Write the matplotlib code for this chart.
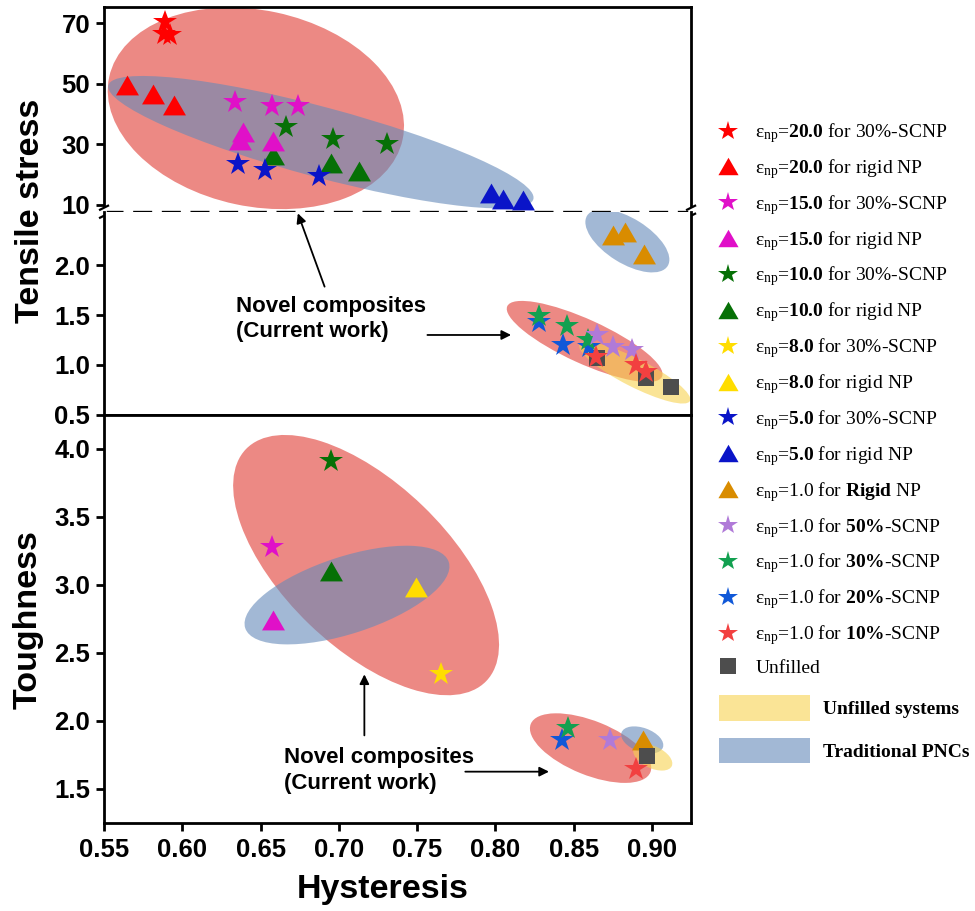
import matplotlib
matplotlib.use('Agg')
import matplotlib.pyplot as plt
from matplotlib.patches import Ellipse, Patch
from matplotlib.lines import Line2D
from matplotlib.transforms import ScaledTranslation

plt.rcParams['font.family'] = 'Liberation Sans'
plt.rcParams['mathtext.fontset'] = 'custom'
plt.rcParams['mathtext.rm'] = 'Liberation Serif'
plt.rcParams['mathtext.bf'] = 'Liberation Serif:bold'
plt.rcParams['mathtext.it'] = 'Liberation Serif:italic'

# ---- data ----
# top panel (tensile stress, high epsilon_np)
e20_scnp_x = [0.589, 0.588, 0.592]
e20_scnp_y = [70.5, 66.5, 66.0]
e20_rig_x = [0.5645, 0.581, 0.595]
e20_rig_y = [49.6, 46.5, 43.0]
e15_scnp_x = [0.6335, 0.657, 0.674]
e15_scnp_y = [43.9, 42.6, 42.6]
e15_rig_x = [0.639, 0.637, 0.658]
e15_rig_y = [34.0, 31.5, 31.0]
e10_scnp_x = [0.666, 0.696, 0.731]
e10_scnp_y = [35.8, 31.9, 30.0]
e10_rig_x = [0.658, 0.695, 0.713]
e10_rig_y = [26.4, 23.7, 21.1]
e5_scnp_x = [0.6355, 0.653, 0.687]
e5_scnp_y = [23.4, 21.5, 19.5]
e5_rig_x = [0.7975, 0.805, 0.8175]
e5_rig_y = [14.0, 11.8, 11.5]

# middle panel (tensile stress, epsilon_np = 1.0)
rig1_x = [0.875, 0.883, 0.895]
rig1_y = [2.31, 2.34, 2.11]
unf_x = [0.865, 0.896, 0.912]
unf_y = [1.07, 0.87, 0.78]
s20_x = [0.828, 0.843, 0.860]
s20_y = [1.43, 1.20, 1.18]
s30_x = [0.828, 0.846, 0.859]
s30_y = [1.49, 1.39, 1.25]
s50_x = [0.865, 0.875, 0.887]
s50_y = [1.30, 1.18, 1.15]
s10_x = [0.864, 0.890, 0.896]
s10_y = [1.08, 1.00, 0.93]

# bottom panel (toughness)
t_e15_scnp = (0.657, 3.278)
t_e10_scnp = (0.695, 3.907)
t_e8_scnp = (0.765, 2.347)
t_e15_rig = (0.658, 2.744)
t_e10_rig = (0.695, 3.10)
t_e8_rig = (0.7495, 2.98)
t_rig1 = (0.894, 1.863)
t_unf = (0.897, 1.745)
t_s20 = (0.8425, 1.862)
t_s30 = (0.8465, 1.948)
t_s50 = (0.8735, 1.858)
t_s10 = (0.890, 1.650)

x_ticks = [0.55, 0.60, 0.65, 0.70, 0.75, 0.80, 0.85, 0.90]
top_ticks = [10, 30, 50, 70]
mid_ticks = [0.5, 1.0, 1.5, 2.0]
bot_ticks = [1.5, 2.0, 2.5, 3.0, 3.5, 4.0]

# ---- styles ----
TRI = [(0, 0.75), (-0.866, -0.75), (0.866, -0.75)]
c_e20, c_e15, c_e10, c_e8, c_e5 = '#ff0000', '#e010c8', '#067006', '#ffdd00', '#0a14c8'
c_rig1, c_s50, c_s30, c_s20, c_s10 = '#d98c00', '#b07ad8', '#12a050', '#1058d8', '#f24040'
c_unf = '#4d4d4d'
c_red, c_blue, c_yel = '#e03a33', '#658ab9', '#f7d250'

fig = plt.figure(figsize=(9.75, 9.11), dpi=100)
ax1 = fig.add_axes([0.1067, 0.7676, 0.6021, 0.2250])
ax2 = fig.add_axes([0.1067, 0.5450, 0.6021, 0.2226])
ax3 = fig.add_axes([0.1067, 0.0966, 0.6021, 0.4484])


def star(ax, x, y, c):
    ax.plot(x, y, ls='none', marker='*', ms=17.5, color=c, mew=0, zorder=4)


def tri(ax, x, y, c):
    ax.plot(x, y, ls='none', marker=TRI, ms=16.5, color=c, mew=0, zorder=4)


def square(ax, x, y):
    ax.plot(x, y, ls='none', marker='s', ms=12, color=c_unf, mew=0, zorder=4)


def blob(ax, cx, cy, w, h, ang, c, z=1):
    tr = fig.dpi_scale_trans + ScaledTranslation(cx, cy, ax.transData)
    ax.add_patch(Ellipse((0, 0), w / 100, h / 100, angle=ang, transform=tr,
                         facecolor=c, alpha=0.6, edgecolor='none', zorder=z))


# top panel
blob(ax1, 0.647, 41.9, 300, 196, -12, c_red)
blob(ax1, 0.6885, 30.7, 440, 70, -15, c_blue, 2)
tri(ax1, e10_rig_x, e10_rig_y, c_e10)
tri(ax1, e15_rig_x, e15_rig_y, c_e15)
tri(ax1, e20_rig_x, e20_rig_y, c_e20)
tri(ax1, e5_rig_x, e5_rig_y, c_e5)
star(ax1, e20_scnp_x, e20_scnp_y, c_e20)
star(ax1, e15_scnp_x, e15_scnp_y, c_e15)
star(ax1, e10_scnp_x, e10_scnp_y, c_e10)
star(ax1, e5_scnp_x, e5_scnp_y, c_e5)

# middle panel
blob(ax2, 0.8843, 2.247, 95, 45, -32, c_blue)
blob(ax2, 0.857, 1.235, 170, 44, -24.5, c_red)
blob(ax2, 0.889, 0.92, 124, 28, -27, c_yel, 2)
tri(ax2, rig1_x, rig1_y, c_rig1)
square(ax2, unf_x, unf_y)
star(ax2, s20_x, s20_y, c_s20)
star(ax2, s30_x, s30_y, c_s30)
star(ax2, s50_x, s50_y, c_s50)
star(ax2, s10_x, s10_y, c_s10)

# bottom panel
blob(ax3, 0.7174, 3.144, 334, 164, -44, c_red)
blob(ax3, 0.7052, 2.924, 214, 77, 18, c_blue, 2)
blob(ax3, 0.8608, 1.80, 129, 54, -22, c_red)
blob(ax3, 0.8938, 1.86, 44, 24, -20, c_blue, 2)
blob(ax3, 0.9005, 1.733, 42, 22, -25, c_yel, 2)
tri(ax3, [t_e15_rig[0]], [t_e15_rig[1]], c_e15)
tri(ax3, [t_e10_rig[0]], [t_e10_rig[1]], c_e10)
tri(ax3, [t_e8_rig[0]], [t_e8_rig[1]], c_e8)
star(ax3, [t_e15_scnp[0]], [t_e15_scnp[1]], c_e15)
star(ax3, [t_e10_scnp[0]], [t_e10_scnp[1]], c_e10)
star(ax3, [t_e8_scnp[0]], [t_e8_scnp[1]], c_e8)
tri(ax3, [t_rig1[0]], [t_rig1[1]], c_rig1)
square(ax3, [t_unf[0]], [t_unf[1]])
star(ax3, [t_s20[0]], [t_s20[1]], c_s20)
star(ax3, [t_s30[0]], [t_s30[1]], c_s30)
star(ax3, [t_s50[0]], [t_s50[1]], c_s50)
star(ax3, [t_s10[0]], [t_s10[1]], c_s10)

# axes cosmetics
for ax in (ax1, ax2, ax3):
    ax.set_xlim(0.55, 0.925)
    for s in ax.spines.values():
        s.set_linewidth(2)
    ax.tick_params(axis='y', direction='out', length=6, width=2, pad=4, labelsize=18.5)
    ax.tick_params(axis='x', direction='out', length=6, width=2, pad=5, labelsize=18.5)

ax1.set_ylim(7.7, 75.5)
ax2.set_ylim(0.5, 2.54)
ax3.set_ylim(1.25, 4.25)
ax1.set_yticks(top_ticks)
ax2.set_yticks(mid_ticks)
ax3.set_yticks(bot_ticks)
ax3.set_xticks(x_ticks)
ax3.set_xticklabels(['%.2f' % v for v in x_ticks], fontweight='bold')
ax1.set_yticklabels([str(v) for v in top_ticks], fontweight='bold')
ax2.set_yticklabels(['%.1f' % v for v in mid_ticks], fontweight='bold')
ax3.set_yticklabels(['%.1f' % v for v in bot_ticks], fontweight='bold')
for ax in (ax1, ax2):
    ax.tick_params(axis='x', bottom=False, labelbottom=False)
ax1.spines['bottom'].set_visible(False)
ax2.spines['top'].set_visible(False)

# dashed break line between the two tensile panels
ax1.plot([0, 1], [0, 0], transform=ax1.transAxes, color='k', lw=2.4,
         dashes=(5.7, 2.9), clip_on=False, zorder=6)

# small break marks on both side spines
for xa in (0, 1):
    tr = fig.dpi_scale_trans + ScaledTranslation(xa, 0, ax1.transAxes)
    ax1.plot([0, 0], [-0.035, 0.035], transform=tr, color='white', lw=4,
             clip_on=False, zorder=7, solid_capstyle='butt')
    ax1.plot([-0.04, 0.04], [0.02, 0.06], transform=tr, color='k', lw=1.6,
             clip_on=False, zorder=8)
    ax1.plot([-0.04, 0.04], [-0.06, -0.02], transform=tr, color='k', lw=1.6,
             clip_on=False, zorder=8)

# labels
fig.text(0.031, 0.768, 'Tensile stress', rotation=90, ha='center', va='center',
         fontsize=24.5, fontweight='bold')
fig.text(0.029, 0.3194, 'Toughness', rotation=90, ha='center', va='center',
         fontsize=24.5, fontweight='bold')
fig.text(0.392, 0.0143, 'Hysteresis', ha='center', va='baseline',
         fontsize=24.5, fontweight='bold')

# annotations
arr = dict(arrowstyle='-|>', color='k', lw=1.3, mutation_scale=14)
ax2.text(0.634, 1.46, 'Novel composites\n(Current work)', fontsize=16,
         fontweight='bold', ha='left', va='center', linespacing=1.3)
ax2.annotate('', xy=(0.6732, 2.55), xytext=(0.6915, 1.76), arrowprops=arr,
             annotation_clip=False)
ax2.annotate('', xy=(0.8118, 1.30), xytext=(0.7548, 1.30), arrowprops=arr)
ax3.text(0.6649, 1.635, 'Novel composites\n(Current work)', fontsize=16,
         fontweight='bold', ha='left', va='center', linespacing=1.3)
ax3.annotate('', xy=(0.7163, 2.362), xytext=(0.7163, 1.873), arrowprops=arr)
ax3.annotate('', xy=(0.836, 1.627), xytext=(0.779, 1.627), arrowprops=arr)

# legends
eps = r'$\mathrm{\varepsilon_{np}}$='
leg_labels = [
    eps + r'$\mathbf{20.0}$ for 30%-SCNP',
    eps + r'$\mathbf{20.0}$ for rigid NP',
    eps + r'$\mathbf{15.0}$ for 30%-SCNP',
    eps + r'$\mathbf{15.0}$ for rigid NP',
    eps + r'$\mathbf{10.0}$ for 30%-SCNP',
    eps + r'$\mathbf{10.0}$ for rigid NP',
    eps + r'$\mathbf{8.0}$ for 30%-SCNP',
    eps + r'$\mathbf{8.0}$ for rigid NP',
    eps + r'$\mathbf{5.0}$ for 30%-SCNP',
    eps + r'$\mathbf{5.0}$ for rigid NP',
    eps + r'1.0 for $\mathbf{Rigid}$ NP',
    eps + r'1.0 for $\mathbf{50\%}$-SCNP',
    eps + r'1.0 for $\mathbf{30\%}$-SCNP',
    eps + r'1.0 for $\mathbf{20\%}$-SCNP',
    eps + r'1.0 for $\mathbf{10\%}$-SCNP',
    'Unfilled',
]
leg_markers = ['*', TRI, '*', TRI, '*', TRI, '*', TRI, '*', TRI, TRI, '*', '*', '*', '*', 's']
leg_colors = [c_e20, c_e20, c_e15, c_e15, c_e10, c_e10, c_e8, c_e8, c_e5, c_e5,
              c_rig1, c_s50, c_s30, c_s20, c_s10, c_unf]
handles = []
for m, c in zip(leg_markers, leg_colors):
    ms = 15 if m == '*' else (11 if m == 's' else 14.5)
    handles.append(Line2D([], [], ls='none', marker=m, color=c, ms=ms, mew=0))
fig.legend(handles, leg_labels, loc='upper left', bbox_to_anchor=(0.7317, 0.867),
           frameon=False, borderpad=0, borderaxespad=0, handlelength=1.5,
           handletextpad=0.65, labelspacing=0.615,
           prop={'family': 'Liberation Serif', 'size': 14})

patches = [Patch(facecolor=c_yel, alpha=0.6, edgecolor='none'),
           Patch(facecolor=c_blue, alpha=0.6, edgecolor='none')]
fig.legend(patches, ['Unfilled systems', 'Traditional PNCs'], loc='upper left',
           bbox_to_anchor=(0.7374, 0.2372), frameon=False, borderpad=0,
           borderaxespad=0, handlelength=4.69, handleheight=1.65,
           handletextpad=0.67, labelspacing=0.88,
           prop={'family': 'Liberation Serif', 'size': 14, 'weight': 'bold'})

fig.savefig('out.png', dpi=100)
